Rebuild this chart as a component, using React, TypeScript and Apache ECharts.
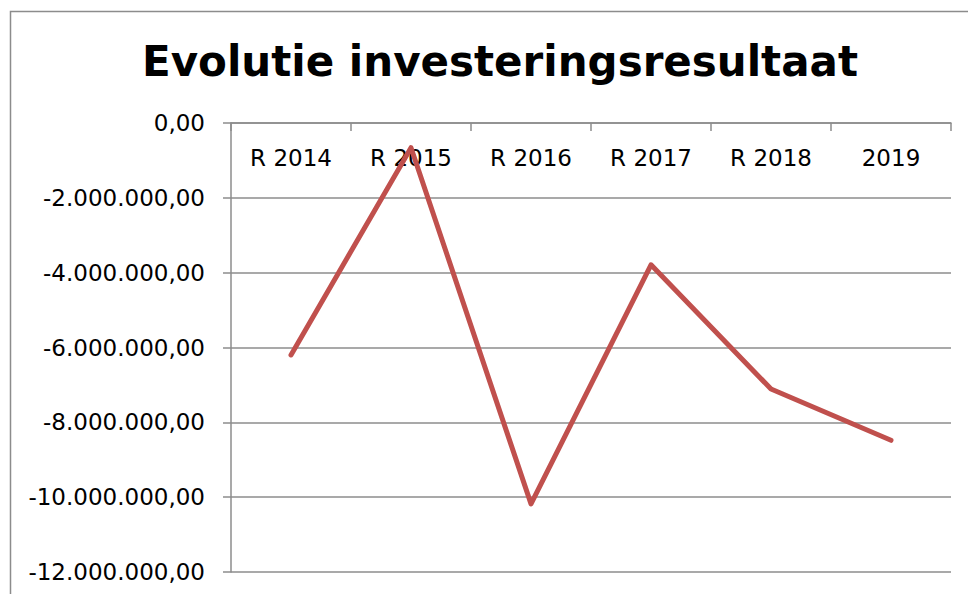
import React, { useEffect, useRef } from "react";
import * as echarts from "echarts";

const categories = ["R 2014", "R 2015", "R 2016", "R 2017", "R 2018", "2019"];
const values = [-6200000, -660000, -10180000, -3790000, -7110000, -8480000];
const yMin = -12000000;
const yMax = 0;
const yInterval = 2000000;

function formatNL(v: number): string {
  const neg = v < 0;
  const abs = Math.abs(Math.round(v));
  const s = abs.toString().replace(/\B(?=(\d{3})+(?!\d))/g, ".");
  return (neg ? "-" : "") + s + ",00";
}

export default function App() {
  const ref = useRef<HTMLDivElement>(null);
  useEffect(() => {
    if (!ref.current) return;
    const chart = echarts.init(ref.current, null, { renderer: "svg" });
    const font = "DejaVu Sans";
    chart.setOption({
      animation: false,
      backgroundColor: "#ffffff",
      title: {
        text: "Evolutie investeringsresultaat",
        left: 495,
        textAlign: "center",
        top: 35,
        textStyle: { fontFamily: font, fontWeight: "bold", fontSize: 42, color: "#000" },
      },
      graphic: [
        {
          type: "rect",
          shape: { x: 10.5, y: 11.5, width: 1000, height: 700 },
          style: { fill: "none", stroke: "#8c8c8c", lineWidth: 1.5 },
          silent: true,
        },
      ],
      grid: { left: 231, top: 123, right: 17, bottom: 22, containLabel: false },
      xAxis: {
        type: "category",
        position: "top",
        data: categories,
        boundaryGap: true,
        axisLine: { show: true, lineStyle: { color: "#8c8c8c", width: 1.5 } },
        axisTick: { show: true, inside: true, length: 8, lineStyle: { color: "#8c8c8c", width: 1.5 } },
        axisLabel: {
          inside: true,
          margin: 35,
          fontFamily: font,
          fontSize: 23,
          color: "#000",
          verticalAlign: "middle",
        },
        splitLine: { show: false },
      },
      yAxis: {
        type: "value",
        min: yMin,
        max: yMax,
        interval: yInterval,
        axisLine: { show: true, lineStyle: { color: "#8c8c8c", width: 1.5 } },
        axisTick: { show: true, length: 8, lineStyle: { color: "#8c8c8c", width: 1.5 } },
        axisLabel: {
          margin: 26,
          fontFamily: font,
          fontSize: 23,
          color: "#000",
          formatter: (v: number) => formatNL(v),
        },
        splitLine: { show: true, lineStyle: { color: "#8c8c8c", width: 1.5 } },
      },
      series: [
        {
          type: "line",
          data: values,
          symbol: "none",
          lineStyle: { color: "#C0504D", width: 5, cap: "round", join: "round" },
        },
      ],
    });
    return () => chart.dispose();
  }, []);
  return (
    <div
      ref={ref}
      style={{ position: "absolute", left: 0, top: 0, width: 968, height: 594 }}
    />
  );
}
